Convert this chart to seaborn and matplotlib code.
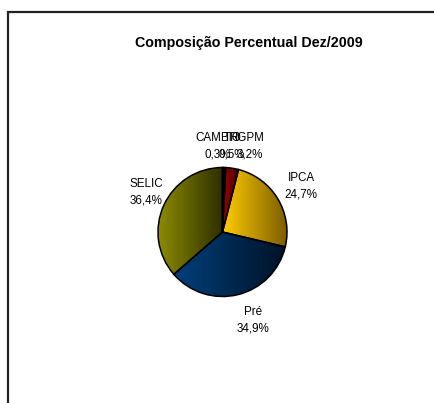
import numpy as np
import matplotlib
matplotlib.use("Agg")
import matplotlib.pyplot as plt
import seaborn as sns
from matplotlib.colors import LinearSegmentedColormap
from matplotlib.patches import Rectangle

sns.set_style("white")
plt.rcParams['font.family'] = ['Liberation Sans', 'DejaVu Sans']
plt.rcParams['text.color'] = 'black'

# data
categories = ["CAMBIO", "TR", "IGPM", "IPCA", "Pré", "SELIC"]
values = [0.3, 0.5, 3.2, 24.7, 34.9, 36.4]
pct_labels = ["0,3%", "0,5%", "3,2%", "24,7%", "34,9%", "36,4%"]
title = "Composição Percentual Dez/2009"

# gradient colours (light on left -> dark on right)
grad = {
    "CAMBIO": ("#303030", "#000000"),
    "TR": ("#202020", "#000000"),
    "IGPM": ("#a00000", "#3c0000"),
    "IPCA": ("#ffcc00", "#7a5a00"),
    "Pré": ("#00407c", "#001226"),
    "SELIC": ("#8c8c00", "#2e2e00"),
}

W, H = 434, 403
fig = plt.figure(figsize=(W / 100, H / 100), dpi=100)
ax = fig.add_axes([0, 0, 1, 1])

cx, cy, r = 222.5, H - 232, 64.5
wedges, texts = ax.pie(
    values,
    labels=[f"{c}\n{p}" for c, p in zip(categories, pct_labels)],
    startangle=90, counterclock=False,
    center=(cx, cy), radius=r, frame=True,
    labeldistance=1.3,
    wedgeprops=dict(edgecolor="black", linewidth=1.1),
    textprops=dict(fontsize=8.4, linespacing=1.45, color="black"),
)

# label placement (Excel-like, outside the pie)
label_pos = {
    "CAMBIO": (218, H - 146),
    "TR": (232, H - 146),
    "IGPM": (250, H - 146),
    "IPCA": (301, H - 186),
    "Pré": (253, H - 320),
    "SELIC": (146, H - 192),
}
for t, c in zip(texts, categories):
    t.set_position(label_pos[c])
    t.set_ha("center")
    t.set_va("center")

gx = np.linspace(0, 1, 256).reshape(1, -1)
for w, c in zip(wedges, categories):
    ext = w.get_path().get_extents()
    cmap = LinearSegmentedColormap.from_list(c, list(grad[c]))
    im = ax.imshow(gx, extent=[ext.x0, ext.x1, ext.y0, ext.y1], cmap=cmap,
                   aspect="auto", zorder=1, interpolation="bilinear")
    im.set_clip_path(w)
    w.set_facecolor("none")
    w.set_zorder(2)

ax.text(249, H - 43, title, ha="center", va="center", fontsize=10.3,
        fontweight="bold", color="black")

# chart-area frame (extends beyond the right and bottom of the image)
ax.add_patch(Rectangle((7.5, -20), 460, H - 12 + 20, fill=False,
                       edgecolor="#222222", linewidth=1.6, zorder=3,
                       clip_on=False))

ax.set_xlim(0, W)
ax.set_ylim(0, H)
ax.set_aspect("equal")
ax.axis("off")

fig.savefig("out.png", dpi=100)
